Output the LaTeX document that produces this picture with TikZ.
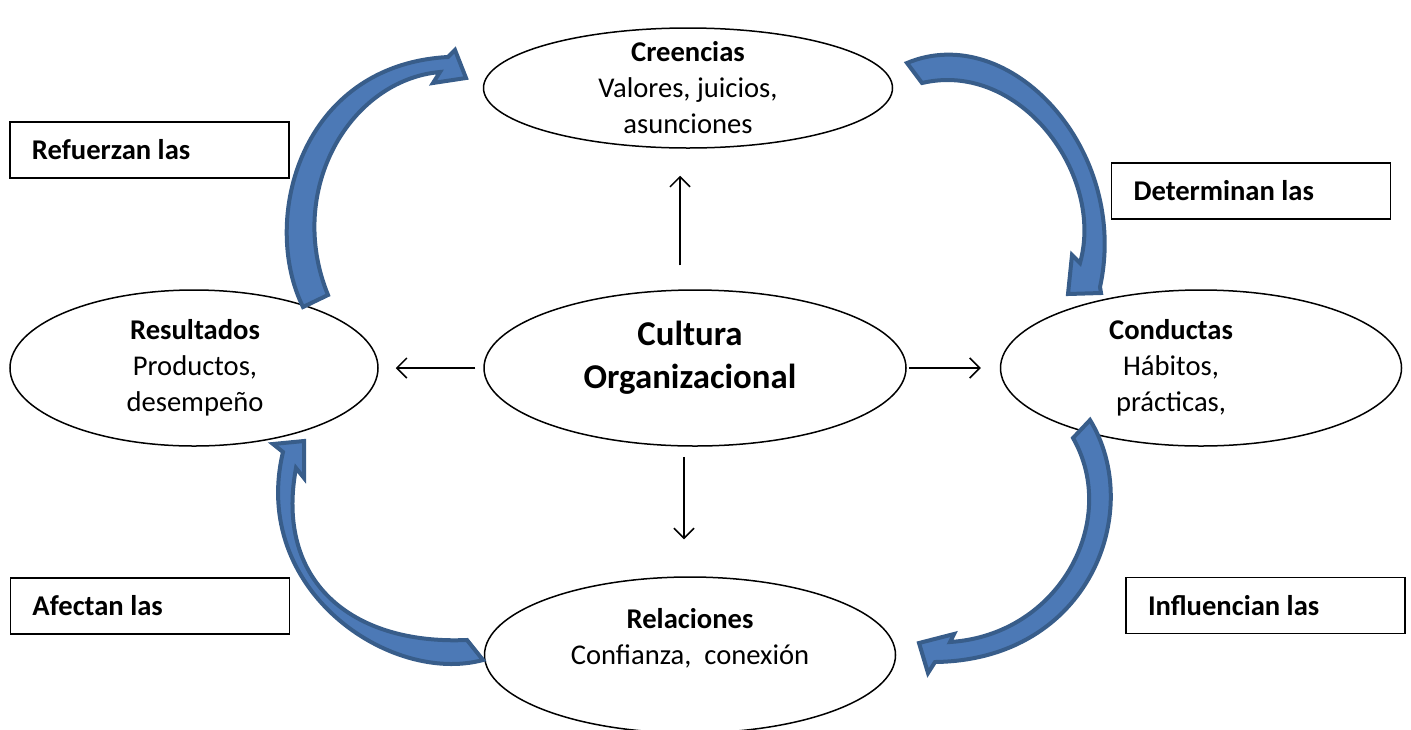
\documentclass[tikz,border=0pt]{standalone}
\usepackage{fontspec}
\setmainfont{Carlito}
\usetikzlibrary{shapes.geometric,arrows.meta}
\definecolor{arrowfill}{RGB}{76,121,182}
\definecolor{arrowline}{RGB}{56,93,138}
\begin{document}
\begin{tikzpicture}[x=0.5pt,y=-0.5pt,
  ell/.style={ellipse, draw, line width=0.75pt, inner sep=0pt},
  txt/.style={align=center, inner sep=0pt, font=\fontsize{14.3}{18}\selectfont},
  bigtxt/.style={align=center, inner sep=0pt, font=\bfseries\fontsize{17.4}{21.5}\selectfont},
  labelbox/.style={draw, line width=0.75pt, minimum width=139.5pt, minimum height=28pt,
    text width=117.5pt, inner xsep=11pt, inner ysep=0pt, align=flush left,
    font=\bfseries\fontsize{14.3}{18}\selectfont},
  conn/.style={-{Straight Barb[length=5pt,width=10pt]}, line width=0.75pt},
  bluearrow/.style={fill=arrowfill, draw=arrowline, line width=2pt}]
\useasboundingbox (0,0) rectangle (1411,729);

% ellipses
\node[ell, minimum width=204.5pt, minimum height=60pt] (cre) at (688,88) {};
\node[ell, minimum width=211pt, minimum height=78pt] (cult) at (695,368) {};
\node[ell, minimum width=184pt, minimum height=78pt] (res) at (194,368) {};
\node[ell, minimum width=200.5pt, minimum height=78pt] (cond) at (1201,368) {};
\node[ell, minimum width=205.5pt, minimum height=78pt] (rel) at (690,655) {};

% ellipse texts
\node[txt] (creT) at (688,88) {\textbf{Creencias}\\Valores, juicios,\\asunciones};
\node[bigtxt] (cultT) at (690,358) {Cultura\\Organizacional};
\node[txt] (resT) at (195,368) {\textbf{Resultados}\\Productos,\\desempeño};
\node[txt] (condT) at (1171,368) {\textbf{Conductas}\\Hábitos,\\prácticas,};
\node[txt] (relT) at (690,638) {\textbf{Relaciones}\\Confianza,\ \ conexión};

% label boxes
\node[labelbox] (refuerzan) at (149.5,150) {Refuerzan las};
\node[labelbox] (determinan) at (1251,191) {Determinan las};
\node[labelbox] (afectan) at (150,606) {Afectan las};
\node[labelbox] (influencian) at (1265.5,605.5) {Influencian las};

% straight connectors from the centre
\draw[conn] ([xshift=-7.5pt,yshift=12pt]cult.north) -- ([xshift=-4pt,yshift=-13.5pt]cre.south);
\draw[conn] ([xshift=-4pt]cult.west) -- ([xshift=8.5pt]res.east);
\draw[conn] ([xshift=1pt]cult.east) -- ([xshift=-9.5pt]cond.west);
\draw[conn] ([xshift=-5.5pt,yshift=-5pt]cult.south) -- ([xshift=-3pt,yshift=18.5pt]rel.north);

% curved block arrows of the cycle
\filldraw[bluearrow] (303,307) .. controls (260,220) and (300,65) .. (448,57)
  -- (455,50) -- (466,78) -- (433,83) -- (440,72)
  .. controls (350,80) and (285,190) .. (328,295) -- cycle;
\filldraw[bluearrow] (907,63) .. controls (1010,20) and (1130,150) .. (1100,287)
  -- (1101,293) -- (1068,294) -- (1072,255) -- (1080,263)
  .. controls (1105,175) and (1020,60) .. (922,83) -- cycle;
\filldraw[bluearrow] (1090,420) .. controls (1145,510) and (1090,660) .. (935,662)
  -- (928,673) -- (919,643) -- (954,634) -- (950,642)
  .. controls (1060,635) and (1120,520) .. (1073,438) -- cycle;
\filldraw[bluearrow] (483,660) .. controls (390,685) and (250,590) .. (283,452)
  -- (273,444) -- (304,441) -- (304,478) -- (296,468)
  .. controls (275,580) and (350,645) .. (467,640) -- cycle;
\end{tikzpicture}
\end{document}
